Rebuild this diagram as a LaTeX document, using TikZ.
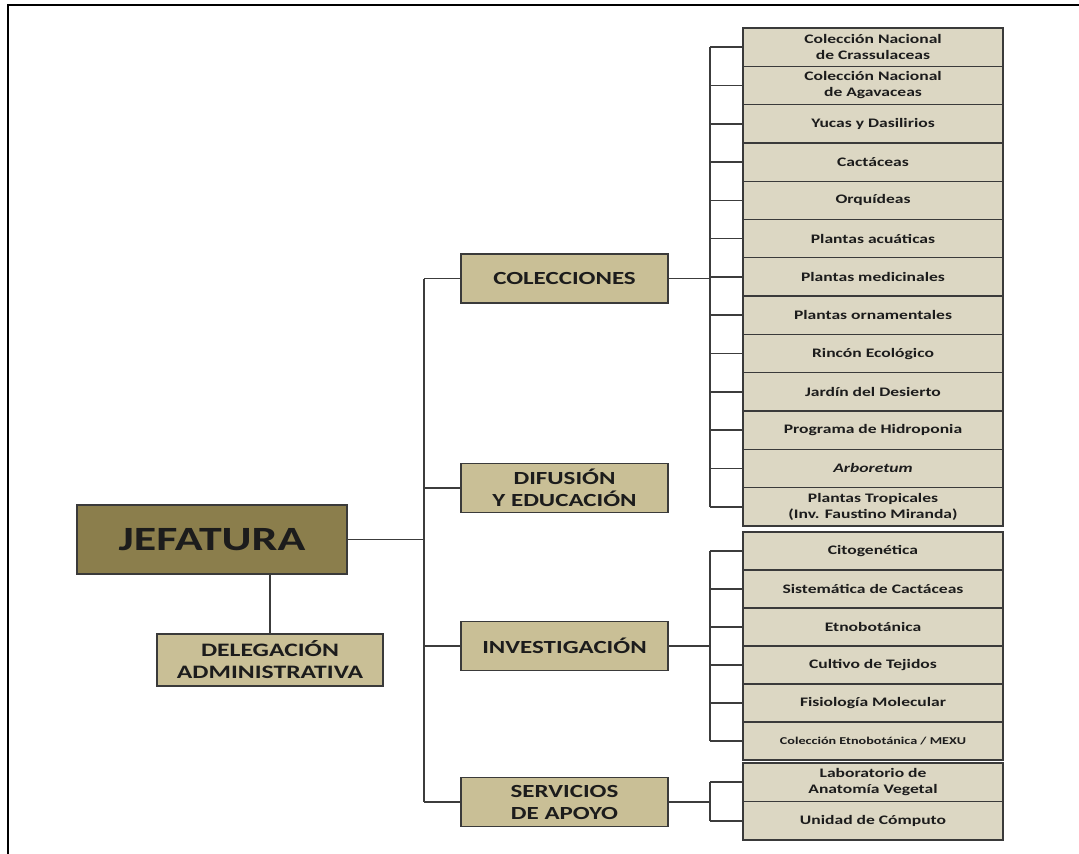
\documentclass[tikz,border=0pt]{standalone}
\usepackage{fontspec}
\setmainfont{Carlito}
\newfontfamily\cf[FakeStretch=1.35]{Carlito}
\definecolor{jefc}{HTML}{8B7E4C}
\definecolor{headc}{HTML}{C9BF96}
\definecolor{itemc}{HTML}{DCD7C3}
\definecolor{bord}{HTML}{3A3A3A}
\definecolor{connc}{HTML}{3C3C3C}
\definecolor{txt}{HTML}{1C1C1C}
\begin{document}
\begin{tikzpicture}[x=1pt,y=-1pt,
  box/.style={draw=bord, line width=1.5pt, rectangle, inner sep=0pt, align=center, text=txt},
  jefbox/.style={box, fill=jefc, minimum width=270pt, minimum height=69pt, font=\cf\bfseries\fontsize{34}{38}\selectfont},
  delbox/.style={box, fill=headc, minimum width=226pt, minimum height=52pt, font=\cf\bfseries\fontsize{19}{22}\selectfont},
  head/.style={box, fill=headc, minimum width=207pt, minimum height=49pt, font=\cf\bfseries\fontsize{18.5}{22}\selectfont},
  item/.style={box, fill=itemc, line width=1.3pt, minimum width=260pt, minimum height=38.3pt, font=\cf\bfseries\fontsize{13}{16}\selectfont},
  conn/.style={draw=connc, line width=1.6pt}]
\useasboundingbox (0,0) rectangle (1079,854);
% frame
\draw[line width=2.6pt, line cap=rect] (8,854) -- (8,5) -- (1079,5);

% main nodes
\node[jefbox] (jef) at (212,539.5) {JEFATURA};
\node[delbox] (del) at (270,660) {DELEGACIÓN\\ADMINISTRATIVA};
\node[head] (col) at (564.5,278.5) {COLECCIONES};
\node[head] (dif) at (564.5,488) {DIFUSIÓN\\Y EDUCACIÓN};
\node[head] (inv) at (564.5,646) {INVESTIGACIÓN};
\node[head] (ser) at (564.5,802) {SERVICIOS\\DE APOYO};

% colecciones items
\foreach \t [count=\i] in {
  {Colección Nacional\\de Crassulaceas},
  {Colección Nacional\\de Agavaceas},
  {Yucas y Dasilirios},
  {Cactáceas},
  {Orquídeas},
  {Plantas acuáticas},
  {Plantas medicinales},
  {Plantas ornamentales},
  {Rincón Ecológico},
  {Jardín del Desierto},
  {Programa de Hidroponia},
  {\itshape Arboretum},
  {Plantas Tropicales\\(Inv. Faustino Miranda)}}
  \node[item] (c\i) at (873,{28+38.3*(\i-0.5)}) {\t};

% investigacion items
\foreach \t [count=\i] in {
  {Citogenética},
  {Sistemática de Cactáceas},
  {Etnobotánica},
  {Cultivo de Tejidos},
  {Fisiología Molecular}}
  \node[item, minimum height=38pt] (v\i) at (873,{532+38*(\i-0.5)}) {\t};
\node[item, minimum height=38pt, font=\cf\bfseries\fontsize{10.5}{13}\selectfont] (v6) at (873,741) {Colección Etnobotánica / MEXU};

% servicios items
\node[item, minimum height=38.5pt] (s1) at (873,782.25) {Laboratorio de\\Anatomía Vegetal};
\node[item, minimum height=38.5pt] (s2) at (873,820.75) {Unidad de Cómputo};

% connectors
\coordinate (T) at (424,0);
\coordinate (B) at (710,0);
\draw[conn] (del.north |- jef.south) -- (del.north);
\draw[conn] (jef.east) -- (jef.east -| T);
\draw[conn] (col.west -| T) -- (ser.west -| T);
\foreach \n in {col,dif,inv,ser}
  \draw[conn] (\n.west -| T) -- (\n.west);

\draw[conn] (col.east) -- (col.east -| B);
\draw[conn] (c1.west -| B) -- (c13.west -| B);
\foreach \i in {1,...,13}
  \draw[conn] (c\i.west -| B) -- (c\i.west);

\draw[conn] (inv.east) -- (inv.east -| B);
\draw[conn] (v1.west -| B) -- (v6.west -| B);
\foreach \i in {1,...,6}
  \draw[conn] (v\i.west -| B) -- (v\i.west);

\draw[conn] (ser.east) -- (ser.east -| B);
\draw[conn] (s1.west -| B) -- (s2.west -| B);
\foreach \i in {1,2}
  \draw[conn] (s\i.west -| B) -- (s\i.west);
\end{tikzpicture}
\end{document}
